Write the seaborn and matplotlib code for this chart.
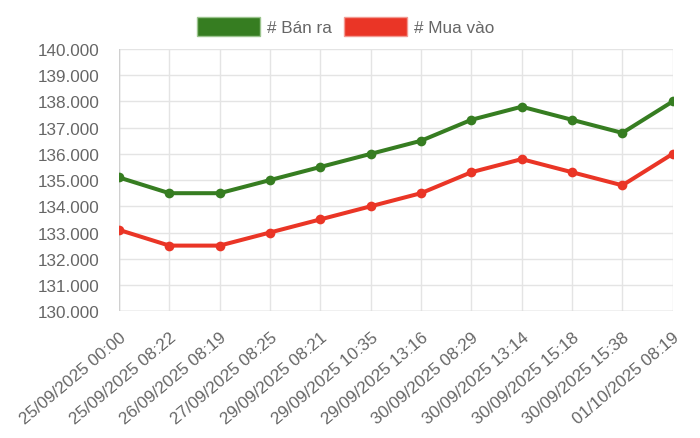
import matplotlib
matplotlib.use("Agg")
import matplotlib.pyplot as plt
from matplotlib.patches import Patch
from matplotlib.ticker import FuncFormatter
import pandas as pd
import seaborn as sns

dates = ["25/09/2025 00:00", "25/09/2025 08:22", "26/09/2025 08:19", "27/09/2025 08:25",
         "29/09/2025 08:21", "29/09/2025 10:35", "29/09/2025 13:16", "30/09/2025 08:29",
         "30/09/2025 13:14", "30/09/2025 15:18", "30/09/2025 15:38", "01/10/2025 08:19"]
ban_ra = [135100, 134500, 134500, 135000, 135500, 136000, 136500, 137300, 137800, 137300, 136800, 138000]
mua_vao = [133100, 132500, 132500, 133000, 133500, 134000, 134500, 135300, 135800, 135300, 134800, 136000]
series_names = ["# Bán ra", "# Mua vào"]
colors = ["#367d21", "#ea3526"]

df = pd.DataFrame({
    "x": list(range(len(dates))) * 2,
    "value": ban_ra + mua_vao,
    "series": [series_names[0]] * len(dates) + [series_names[1]] * len(dates),
})

sns.set_style("white")
plt.rcParams["font.family"] = ["Liberation Sans", "DejaVu Sans"]

fig, ax = plt.subplots(figsize=(7, 4.39), dpi=100)
fig.subplots_adjust(left=0.170, right=0.961, top=0.886, bottom=0.289)

sns.lineplot(data=df, x="x", y="value", hue="series", palette=colors, marker="o",
             markersize=7, markeredgewidth=0, linewidth=2.9, legend=False, ax=ax, zorder=3)

ax.set_xlim(0, len(dates) - 1)
ax.set_ylim(130000, 140000)
ax.set_yticks(range(130000, 140001, 1000))
ax.yaxis.set_major_formatter(FuncFormatter(lambda v, _: f"{v / 1000:.3f}"))
ax.set_xticks(range(len(dates)))
ax.set_xticklabels(dates, rotation=40, ha="right", rotation_mode="anchor")
ax.set_xlabel("")
ax.set_ylabel("")

ax.grid(True, color="#e4e4e4", linewidth=1)
for s in ax.spines.values():
    s.set_visible(False)
ax.axvline(0, color="#d0d0d0", linewidth=1, zorder=1)
ax.axhline(130000, color="#d0d0d0", linewidth=1, zorder=1)
ax.tick_params(axis="both", colors="#666666", labelsize=12.3)
ax.tick_params(axis="x", length=10, color="#e4e4e4", pad=3)
ax.tick_params(axis="y", length=11, color="#e4e4e4", pad=3)

handles = [Patch(facecolor=c, edgecolor="#9bc48e" if i == 0 else "#f29a92", linewidth=1)
           for i, c in enumerate(colors)]
fig.legend(handles, series_names, loc="center", bbox_to_anchor=(0.494, 0.938), ncol=2,
           frameon=False, fontsize=12.3, handlelength=3.7, handleheight=1.3,
           handletextpad=0.4, columnspacing=0.7, labelcolor="#666666")

fig.savefig("out.png", dpi=100)
